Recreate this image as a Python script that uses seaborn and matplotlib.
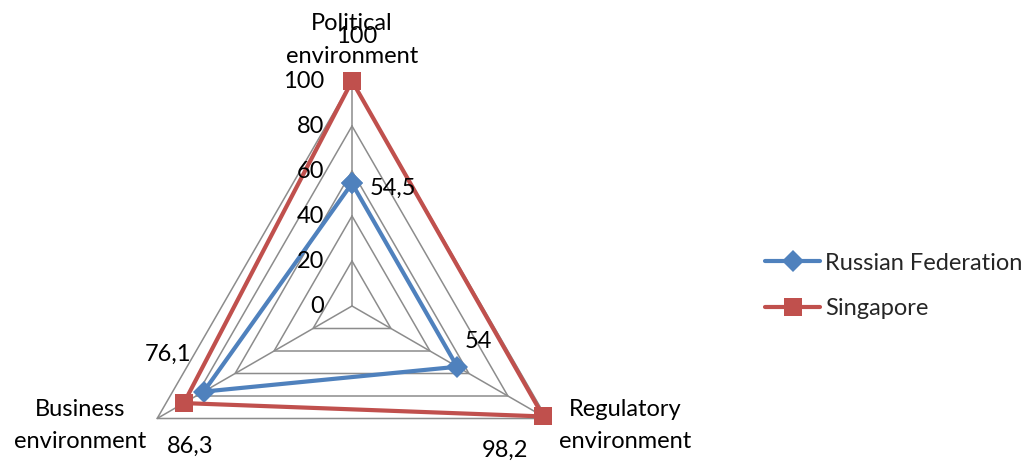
import numpy as np
import pandas as pd
import matplotlib
matplotlib.use("Agg")
import matplotlib.pyplot as plt
from matplotlib.lines import Line2D
import seaborn as sns

categories = ["Political\nenvironment", "Regulatory\nenvironment", "Business\nenvironment"]
series_names = ["Russian Federation", "Singapore"]
russia_values = [54.5, 54, 76.1]
singapore_values = [100, 98.2, 86.3]
radial_ticks = [0, 20, 40, 60, 80, 100]

sns.set_theme(style="white")
plt.rcParams["font.family"] = ["Lato", "DejaVu Sans"]
FS = 17

colors = {"Russian Federation": "#4F81BD", "Singapore": "#C0504D"}
markers = {"Russian Federation": "D", "Singapore": "s"}
msize = {"Russian Federation": 11, "Singapore": 13.5}

n = len(categories)
theta = [2 * np.pi * i / n for i in range(n)]

rows = []
for name, vals in zip(series_names, [russia_values, singapore_values]):
    for i in range(n + 1):
        rows.append({"country": name, "theta": 2 * np.pi * i / n, "value": vals[i % n]})
df = pd.DataFrame(rows)

W, H = 1033, 461
fig = plt.figure(figsize=(W / 100, H / 100), dpi=100)
cx, cy, R = 352, 461 - 306, 225
ax = fig.add_axes([(cx - R) / W, (cy - R) / H, 2 * R / W, 2 * R / H], projection="polar")
ax.set_theta_offset(np.pi / 2)
ax.set_theta_direction(-1)
ax.set_ylim(0, 100)
ax.grid(False)
ax.set_xticks([])
ax.set_yticks([])
ax.spines["polar"].set_visible(False)
ax.patch.set_visible(False)

grid_color = "#8C8C8C"
closed_theta = theta + [theta[0]]
for lv in radial_ticks[1:]:
    ax.plot(closed_theta, [lv] * (n + 1), color=grid_color, lw=1.1, zorder=1, clip_on=False)
for t in theta:
    ax.plot([t, t], [0, 100], color=grid_color, lw=1.1, zorder=1, clip_on=False)

for name in series_names:
    sub = df[df["country"] == name]
    sns.lineplot(data=sub, x="theta", y="value", sort=False, ax=ax, color=colors[name],
                 marker=markers[name], markersize=msize[name], linewidth=3,
                 markeredgecolor=colors[name], markeredgewidth=0, legend=False,
                 estimator=None, zorder=3)
for ln in ax.lines:
    ln.set_clip_on(False)
ax.set_xlabel("")
ax.set_ylabel("")

# radial tick labels
for lv in radial_ticks:
    ax.annotate(str(lv), xy=(0, lv), xytext=(-28, 0), textcoords="offset pixels",
                ha="right", va="center", fontsize=FS, color="black", annotation_clip=False)

# category labels
cat_offsets = [(0, 41), (78, -7), (-77, -7)]
for t, lab, off in zip(theta, categories, cat_offsets):
    ax.annotate(lab, xy=(t, 100), xytext=off, textcoords="offset pixels", ha="center",
                va="center", fontsize=FS, linespacing=1.65, color="black", annotation_clip=False)

def fmt(v):
    s = f"{v:g}"
    return s.replace(".", ",")

# data labels
label_offsets = {
    "Russian Federation": [(41, -5), (21, 25), (-36, 37)],
    "Singapore": [(5, 45), (-38, -34), (6, -43)],
}
for name, vals in zip(series_names, [russia_values, singapore_values]):
    for t, v, off in zip(theta, vals, label_offsets[name]):
        ax.annotate(fmt(v), xy=(t, v), xytext=off, textcoords="offset pixels", ha="center",
                    va="center", fontsize=FS, color="black", annotation_clip=False)

handles = [Line2D([], [], color=colors[s], lw=3, marker=markers[s], markersize=msize[s],
                  markeredgewidth=0) for s in series_names]
fig.legend(handles, series_names, loc="center left", bbox_to_anchor=(765 / W, 1 - 286 / H),
           frameon=False, fontsize=FS, handlelength=2.35, handletextpad=0.2, labelspacing=1.05,
           borderpad=0, borderaxespad=0)

fig.savefig("out.png", dpi=100)
